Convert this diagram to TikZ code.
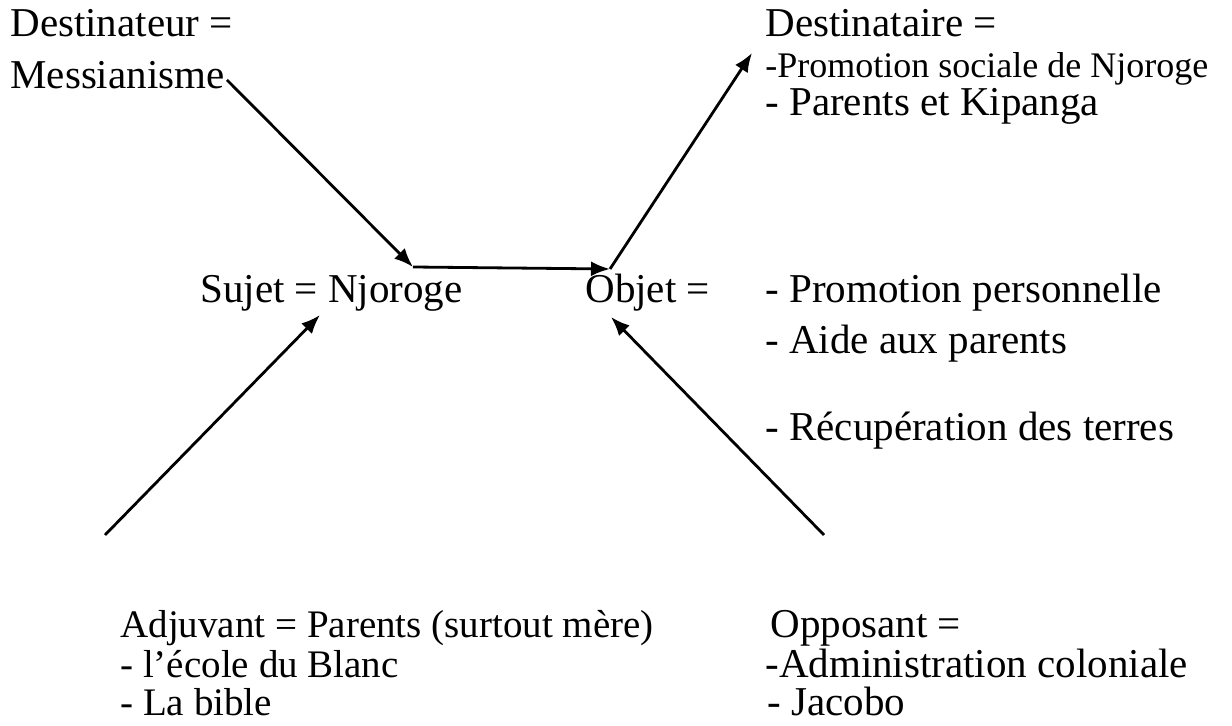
\documentclass[tikz,border=0pt]{standalone}
\usepackage{fontspec}
\setmainfont{Liberation Serif}
\usetikzlibrary{arrows.meta}
\begin{document}
\begin{tikzpicture}[x=0.5pt,y=-0.5pt,
  txt/.style={anchor=base west,inner sep=0pt,font=\fontsize{20.5pt}{24pt}\selectfont},
  smalltxt/.style={txt,font=\fontsize{18pt}{22pt}\selectfont},
  lowtxt/.style={txt,font=\fontsize{19.5pt}{23pt}\selectfont},
  arr/.style={line width=1.4pt,-{Latex[length=9.5pt,width=7.5pt]}}]
\useasboundingbox (0,0) rectangle (1232,726);
% Destinateur
\node[txt] (dst1) at (10,37) {Destinateur =};
\node[txt] (dst2) at (10,89) {Messianisme};
% Destinataire
\node[txt] (dtr1) at (765,37) {Destinataire =};
\node[smalltxt] (dtr2) at (765,78) {-Promotion sociale de Njoroge};
\node[txt] (dtr3) at (765,116) {- Parents et Kipanga};
% Sujet / Objet
\node[txt] (suj) at (200,303) {Sujet = Njoroge};
\node[txt] (obj) at (585,303) {Objet =};
\node[txt] (ob1) at (765,303) {- Promotion personnelle};
\node[txt] (ob2) at (765,354) {- Aide aux parents};
\node[txt] (ob3) at (765,441) {- Récupération des terres};
% Adjuvant
\node[lowtxt] (adj1) at (120,638) {Adjuvant = Parents (surtout mère)};
\node[lowtxt] (adj2) at (120,678) {- l’école du Blanc};
\node[lowtxt] (adj3) at (120,716) {- La bible};
% Opposant
\node[txt] (opp1) at (770,638) {Opposant =};
\node[txt] (opp2) at (765,678) {-Administration coloniale};
\node[txt] (opp3) at (767,716) {- Jacobo};
% connector points
\coordinate (mS) at (227,80);
\coordinate (j1) at (413,267);
\coordinate (j2) at (610,269);
\coordinate (tD) at (752,53);
\coordinate (aS) at (105,535);
\coordinate (tS) at (320,315);
\coordinate (oS) at (824,535);
\coordinate (tO) at (611,317);
\draw[arr] (mS) -- (j1);
\draw[arr] (j1) -- (j2);
\draw[arr] (j2) -- (tD);
\draw[arr] (aS) -- (tS);
\draw[arr] (oS) -- (tO);
\end{tikzpicture}
\end{document}
